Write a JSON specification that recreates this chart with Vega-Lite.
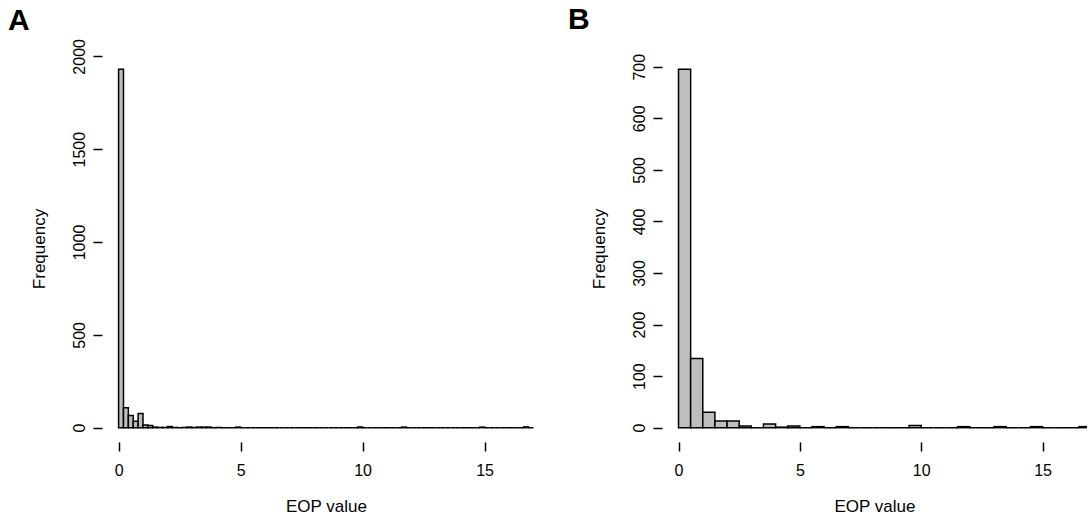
{
  "$schema": "https://vega.github.io/schema/vega-lite/v6.json",
  "padding": {"left": 8, "top": 5, "right": 0, "bottom": 0},
  "background": "white",
  "config": {
    "font": "Liberation Sans",
    "view": {"stroke": null},
    "axis": {
      "domain": false,
      "grid": false,
      "ticks": true,
      "tickColor": "black",
      "tickWidth": 1.5,
      "tickSize": 9,
      "labelColor": "black",
      "labelFontSize": 16,
      "labelFont": "Liberation Sans",
      "titleFont": "Liberation Sans",
      "titleFontSize": 17,
      "titleFontWeight": "normal",
      "titleColor": "black",
      "format": "d"
    },
    "axisX": {"labelPadding": 11, "titlePadding": 20},
    "axisY": {"labelAngle": -90, "labelAlign": "center", "labelBaseline": "bottom", "labelPadding": 6, "titlePadding": 23},
    "title": {"anchor": "start", "frame": "group", "fontSize": 30, "fontWeight": "bold", "font": "Liberation Sans", "color": "black", "baseline": "alphabetic"}
  },
  "datasets": {
    "a": [
      {"start": 0.0, "end": 0.2, "count": 1930},
      {"start": 0.2, "end": 0.4, "count": 107},
      {"start": 0.4, "end": 0.6, "count": 65},
      {"start": 0.6, "end": 0.8, "count": 34},
      {"start": 0.8, "end": 1.0, "count": 76},
      {"start": 1.0, "end": 1.2, "count": 15},
      {"start": 1.2, "end": 1.4, "count": 11},
      {"start": 1.4, "end": 1.6, "count": 3},
      {"start": 1.6, "end": 1.8, "count": 1},
      {"start": 1.8, "end": 2.0, "count": 1},
      {"start": 2.0, "end": 2.2, "count": 6},
      {"start": 2.2, "end": 2.4, "count": 1},
      {"start": 2.4, "end": 2.6, "count": 0},
      {"start": 2.6, "end": 2.8, "count": 1},
      {"start": 2.8, "end": 3.0, "count": 3},
      {"start": 3.0, "end": 3.2, "count": 1},
      {"start": 3.2, "end": 3.4, "count": 3},
      {"start": 3.4, "end": 3.6, "count": 3},
      {"start": 3.6, "end": 3.8, "count": 3},
      {"start": 3.8, "end": 4.0, "count": 0},
      {"start": 4.0, "end": 4.2, "count": 1},
      {"start": 4.2, "end": 4.4, "count": 0},
      {"start": 4.4, "end": 4.6, "count": 0},
      {"start": 4.6, "end": 4.8, "count": 0},
      {"start": 4.8, "end": 5.0, "count": 3},
      {"start": 5.0, "end": 5.2, "count": 0},
      {"start": 5.2, "end": 5.4, "count": 0},
      {"start": 5.4, "end": 5.6, "count": 0},
      {"start": 5.6, "end": 5.8, "count": 0},
      {"start": 5.8, "end": 6.0, "count": 0},
      {"start": 6.0, "end": 6.2, "count": 0},
      {"start": 6.2, "end": 6.4, "count": 0},
      {"start": 6.4, "end": 6.6, "count": 0},
      {"start": 6.6, "end": 6.8, "count": 0},
      {"start": 6.8, "end": 7.0, "count": 0},
      {"start": 7.0, "end": 7.2, "count": 0},
      {"start": 7.2, "end": 7.4, "count": 0},
      {"start": 7.4, "end": 7.6, "count": 0},
      {"start": 7.6, "end": 7.8, "count": 0},
      {"start": 7.8, "end": 8.0, "count": 0},
      {"start": 8.0, "end": 8.2, "count": 0},
      {"start": 8.2, "end": 8.4, "count": 0},
      {"start": 8.4, "end": 8.6, "count": 0},
      {"start": 8.6, "end": 8.8, "count": 0},
      {"start": 8.8, "end": 9.0, "count": 0},
      {"start": 9.0, "end": 9.2, "count": 0},
      {"start": 9.2, "end": 9.4, "count": 0},
      {"start": 9.4, "end": 9.6, "count": 0},
      {"start": 9.6, "end": 9.8, "count": 0},
      {"start": 9.8, "end": 10.0, "count": 3},
      {"start": 10.0, "end": 10.2, "count": 0},
      {"start": 10.2, "end": 10.4, "count": 0},
      {"start": 10.4, "end": 10.6, "count": 0},
      {"start": 10.6, "end": 10.8, "count": 0},
      {"start": 10.8, "end": 11.0, "count": 0},
      {"start": 11.0, "end": 11.2, "count": 0},
      {"start": 11.2, "end": 11.4, "count": 0},
      {"start": 11.4, "end": 11.6, "count": 0},
      {"start": 11.6, "end": 11.8, "count": 3},
      {"start": 11.8, "end": 12.0, "count": 0},
      {"start": 12.0, "end": 12.2, "count": 0},
      {"start": 12.2, "end": 12.4, "count": 0},
      {"start": 12.4, "end": 12.6, "count": 0},
      {"start": 12.6, "end": 12.8, "count": 0},
      {"start": 12.8, "end": 13.0, "count": 0},
      {"start": 13.0, "end": 13.2, "count": 0},
      {"start": 13.2, "end": 13.4, "count": 0},
      {"start": 13.4, "end": 13.6, "count": 0},
      {"start": 13.6, "end": 13.8, "count": 0},
      {"start": 13.8, "end": 14.0, "count": 0},
      {"start": 14.0, "end": 14.2, "count": 0},
      {"start": 14.2, "end": 14.4, "count": 0},
      {"start": 14.4, "end": 14.6, "count": 0},
      {"start": 14.6, "end": 14.8, "count": 0},
      {"start": 14.8, "end": 15.0, "count": 3},
      {"start": 15.0, "end": 15.2, "count": 0},
      {"start": 15.2, "end": 15.4, "count": 0},
      {"start": 15.4, "end": 15.6, "count": 0},
      {"start": 15.6, "end": 15.8, "count": 0},
      {"start": 15.8, "end": 16.0, "count": 0},
      {"start": 16.0, "end": 16.2, "count": 0},
      {"start": 16.2, "end": 16.4, "count": 0},
      {"start": 16.4, "end": 16.6, "count": 0},
      {"start": 16.6, "end": 16.8, "count": 4},
      {"start": 16.8, "end": 17.0, "count": 0}
    ],
    "b": [
      {"start": 0.0, "end": 0.5, "count": 695},
      {"start": 0.5, "end": 1.0, "count": 134},
      {"start": 1.0, "end": 1.5, "count": 30},
      {"start": 1.5, "end": 2.0, "count": 13},
      {"start": 2.0, "end": 2.5, "count": 13},
      {"start": 2.5, "end": 3.0, "count": 3},
      {"start": 3.0, "end": 3.5, "count": 0},
      {"start": 3.5, "end": 4.0, "count": 7},
      {"start": 4.0, "end": 4.5, "count": 1},
      {"start": 4.5, "end": 5.0, "count": 3},
      {"start": 5.0, "end": 5.5, "count": 0},
      {"start": 5.5, "end": 6.0, "count": 2},
      {"start": 6.0, "end": 6.5, "count": 0},
      {"start": 6.5, "end": 7.0, "count": 2},
      {"start": 7.0, "end": 7.5, "count": 0},
      {"start": 7.5, "end": 8.0, "count": 0},
      {"start": 8.0, "end": 8.5, "count": 0},
      {"start": 8.5, "end": 9.0, "count": 0},
      {"start": 9.0, "end": 9.5, "count": 0},
      {"start": 9.5, "end": 10.0, "count": 4},
      {"start": 10.0, "end": 10.5, "count": 0},
      {"start": 10.5, "end": 11.0, "count": 0},
      {"start": 11.0, "end": 11.5, "count": 0},
      {"start": 11.5, "end": 12.0, "count": 2},
      {"start": 12.0, "end": 12.5, "count": 0},
      {"start": 12.5, "end": 13.0, "count": 0},
      {"start": 13.0, "end": 13.5, "count": 2},
      {"start": 13.5, "end": 14.0, "count": 0},
      {"start": 14.0, "end": 14.5, "count": 0},
      {"start": 14.5, "end": 15.0, "count": 2},
      {"start": 15.0, "end": 15.5, "count": 0},
      {"start": 15.5, "end": 16.0, "count": 0},
      {"start": 16.0, "end": 16.5, "count": 0},
      {"start": 16.5, "end": 17.0, "count": 2}
    ]
  },
  "hconcat": [
    {
      "width": 448,
      "height": 387,
      "title": {"text": "A", "dx": -94, "offset": 3},
      "layer": [
        {
          "data": {"name": "a"},
          "mark": {"type": "bar", "fill": "#bebebe", "stroke": "black", "strokeWidth": 1.5, "clip": true},
          "encoding": {
            "x": {"field": "start", "type": "quantitative", "scale": {"domain": [-0.68, 17.68], "nice": false, "zero": false}, "axis": {"values": [0, 5, 10, 15], "title": "EOP value"}},
            "x2": {"field": "end"},
            "y": {"field": "count", "type": "quantitative", "scale": {"domain": [-77.2, 2007.2], "nice": false, "zero": false}, "axis": {"values": [0, 500, 1000, 1500, 2000], "title": "Frequency"}},
            "y2": {"datum": 0}
          }
        },
        {
          "mark": {"type": "rule", "color": "black", "strokeWidth": 1.5},
          "encoding": {"x": {"datum": 0}, "x2": {"datum": 15}, "y": {"datum": -77.2}}
        },
        {
          "mark": {"type": "rule", "color": "black", "strokeWidth": 1.5},
          "encoding": {"x": {"datum": -0.68}, "y": {"datum": 0}, "y2": {"datum": 2000}}
        }
      ]
    },
    {
      "width": 425,
      "height": 387,
      "title": {"text": "B", "dx": -94, "offset": 18},
      "layer": [
        {
          "data": {"name": "b"},
          "mark": {"type": "bar", "fill": "#bebebe", "stroke": "black", "strokeWidth": 1.5, "clip": true},
          "encoding": {
            "x": {"field": "start", "type": "quantitative", "scale": {"domain": [-0.68, 16.83], "nice": false, "zero": false}, "axis": {"values": [0, 5, 10, 15], "title": "EOP value"}},
            "x2": {"field": "end"},
            "y": {"field": "count", "type": "quantitative", "scale": {"domain": [-27.8, 722.8], "nice": false, "zero": false}, "axis": {"values": [0, 100, 200, 300, 400, 500, 600, 700], "title": "Frequency"}},
            "y2": {"datum": 0}
          }
        },
        {
          "mark": {"type": "rule", "color": "black", "strokeWidth": 1.5},
          "encoding": {"x": {"datum": 0}, "x2": {"datum": 15}, "y": {"datum": -27.8}}
        },
        {
          "mark": {"type": "rule", "color": "black", "strokeWidth": 1.5},
          "encoding": {"x": {"datum": -0.68}, "y": {"datum": 0}, "y2": {"datum": 700}}
        }
      ]
    }
  ],
  "spacing": 18
}
